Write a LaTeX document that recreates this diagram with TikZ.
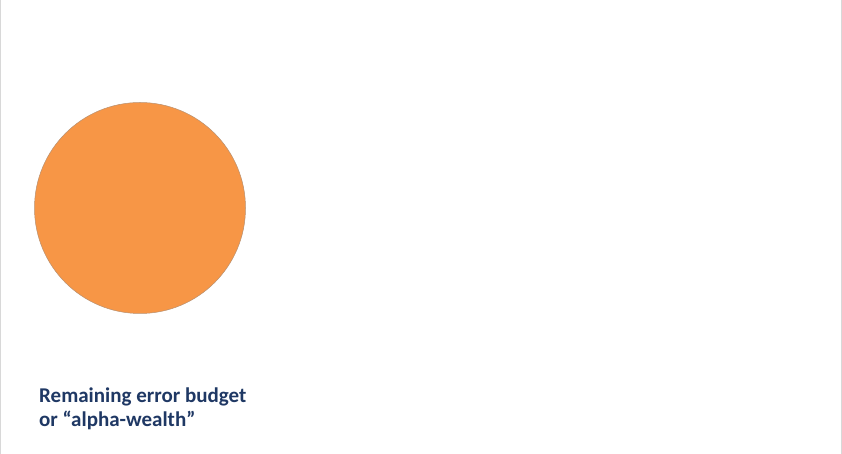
\documentclass[tikz,border=0pt]{standalone}
\usepackage{fontspec}
\setmainfont{Carlito}
\definecolor{budgetorange}{HTML}{F79646}
\definecolor{budgetedge}{HTML}{B89070}
\definecolor{navytext}{HTML}{1F3864}
\definecolor{frameline}{HTML}{D8D8D8}
\begin{document}
\begin{tikzpicture}[x=1pt,y=1pt,
  wealth/.style={circle,fill=budgetorange,draw=budgetedge,line width=0.5pt,minimum size=211pt,inner sep=0pt},
  caption/.style={anchor=base west,text=navytext,font=\bfseries\fontsize{21}{24}\selectfont,inner sep=0pt,align=left}]
\useasboundingbox (0,0) rectangle (842,454);
\fill[white] (0,0) rectangle (842,454);
\draw[frameline,line width=1pt] (0.5,0) -- (0.5,454);
\draw[frameline,line width=1pt] (841.5,0) -- (841.5,454);
\node[wealth] (budget) at (140,246) {};
\node[caption] (lineone) at (39,51) {Remaining error budget};
\node[caption] (linetwo) at (39,27) {or “alpha-wealth”};
\end{tikzpicture}
\end{document}
